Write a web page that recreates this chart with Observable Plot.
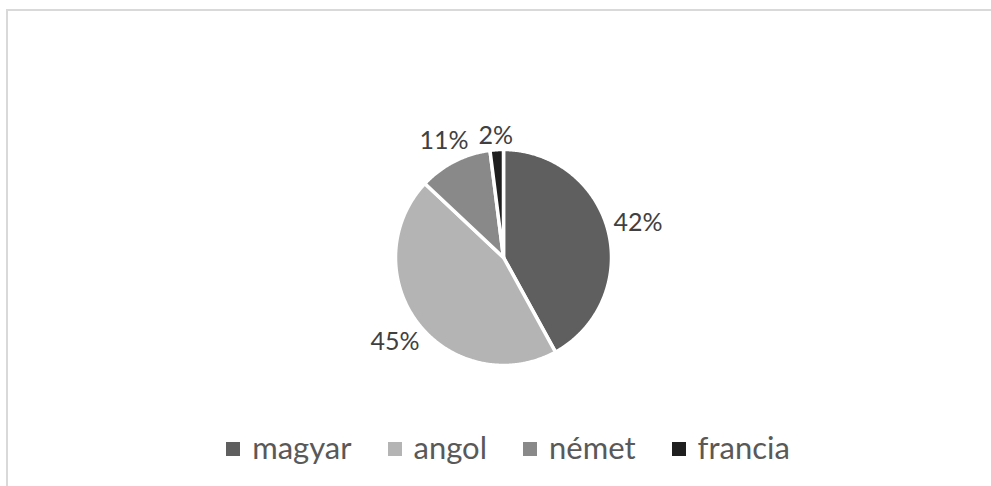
<!DOCTYPE html>
<html>
<head>
<meta charset="utf-8">
<script src="https://cdn.jsdelivr.net/npm/d3@7"></script>
<script src="https://cdn.jsdelivr.net/npm/@observablehq/plot@0.6"></script>
<style>
  html, body { margin: 0; padding: 0; background: #fff; overflow: hidden; }
  #wrap { position: relative; width: 991px; height: 486px; overflow: hidden; font-family: Lato, "Open Sans", sans-serif; }
  #frame { position: absolute; left: 6px; top: 9px; width: 1100px; height: 600px; border: 2px solid #d9d9d9; box-sizing: border-box; }
  #chart { position: absolute; left: 0; top: 0; }
  #legend { position: absolute; left: 0; width: 1016px; top: 428px; display: flex; justify-content: center; align-items: center; font-size: 31px; color: #595959; }
  .item { display: flex; align-items: center; margin: 0 18px; }
  .sw { width: 14px; height: 14px; margin-right: 12px; margin-top: 3px; }
</style>
</head>
<body>
<div id="wrap">
  <div id="frame"></div>
  <div id="chart"></div>
  <div id="legend"></div>
</div>
<script>
const categories = ["magyar", "angol", "német", "francia"];
const values = [42, 45, 11, 2];
const labels = ["42%", "45%", "11%", "2%"];
const colors = ["#5f5f5f", "#b4b4b4", "#898989", "#1f1f1f"];

const W = 991, H = 486;
const cx = 503, cy = 257, R = 108;

const arcs = d3.pie().sort(null).value(d => d)(values);

// slice polygons (center -> arc -> center)
const poly = [];
arcs.forEach((a, i) => {
  const name = categories[i];
  poly.push({name, x: 0, y: 0});
  const n = Math.max(4, Math.ceil((a.endAngle - a.startAngle) / 0.008));
  for (let k = 0; k <= n; k++) {
    const t = a.startAngle + (a.endAngle - a.startAngle) * k / n;
    poly.push({name, x: Math.sin(t), y: -Math.cos(t)});
  }
  poly.push({name, x: 0, y: 0});
});

// label positions: box just outside the slice at its mid angle
const fs = 25;
const lab = arcs.map((a, i) => {
  const m = (a.startAngle + a.endAngle) / 2;
  const ux = Math.sin(m), uy = -Math.cos(m);
  const hw = labels[i].length * fs * 0.33, hh = fs * 0.3;
  const d = R + 5 + hw * Math.abs(ux) + hh * Math.abs(uy);
  return {text: labels[i], x: ux * d / R, y: uy * d / R};
});

const plot = Plot.plot({
  width: W,
  height: H,
  margin: 0,
  style: {background: "transparent", overflow: "visible"},
  x: {domain: [-1, 1], range: [cx - R, cx + R], axis: null},
  y: {domain: [-1, 1], range: [cy - R, cy + R], axis: null},
  color: {domain: categories, range: colors},
  marks: [
    Plot.line(poly, {x: "x", y: "y", z: "name", fill: "name", stroke: "white", strokeWidth: 3.5, strokeLinejoin: "round", curve: "linear"}),
    Plot.text(lab, {x: "x", y: "y", text: "text", fontSize: fs, fill: "#404040", fontFamily: "Lato, 'Open Sans', sans-serif"})
  ]
});
document.getElementById("chart").appendChild(plot);

const leg = d3.select("#legend");
categories.forEach((c, i) => {
  const it = leg.append("div").attr("class", "item");
  it.append("div").attr("class", "sw").style("background", colors[i]);
  it.append("span").text(c);
});
</script>
</body>
</html>
